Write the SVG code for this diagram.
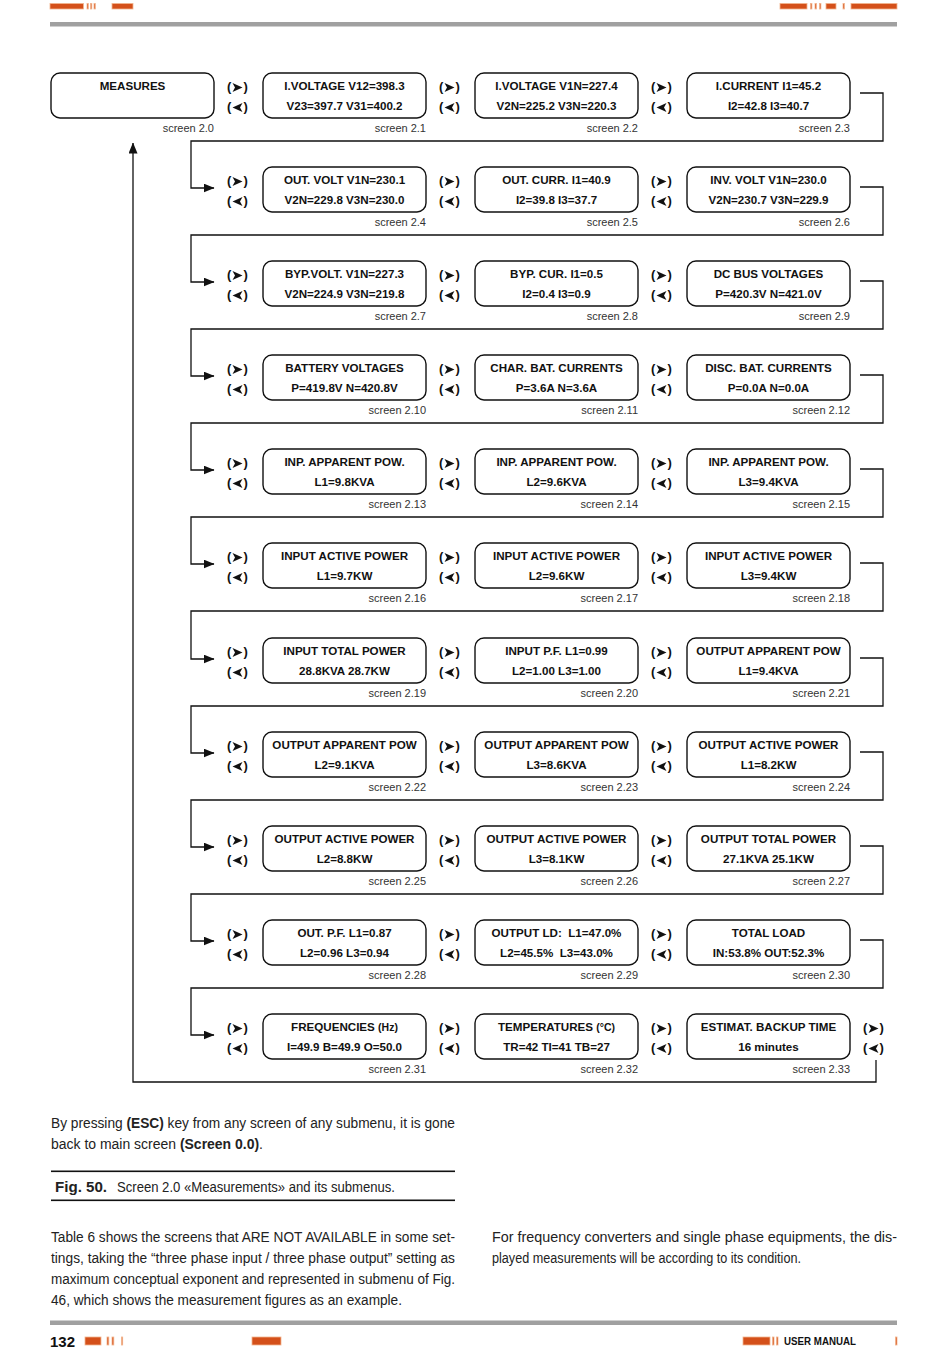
<svg xmlns="http://www.w3.org/2000/svg" xmlns:xlink="http://www.w3.org/1999/xlink" width="950" height="1360" viewBox="0 0 950 1360">
<style>
.bx{fill:#fff;stroke:#111;stroke-width:1.4}
.t{font-family:"Liberation Sans",Arial,sans-serif;font-weight:bold;font-size:11.6px;text-anchor:middle;fill:#111}
.s{font-family:"Liberation Sans",Arial,sans-serif;font-size:11px;text-anchor:end;fill:#333}
.p{font-family:"Liberation Sans",Arial,sans-serif;font-weight:bold;font-size:13px;fill:#111}
.ln{fill:none;stroke:#111;stroke-width:1.3}
.tx{font-family:"Liberation Sans",Arial,sans-serif;font-size:14px;fill:#222}
.b{font-weight:bold}
.or{fill:#d4501a;stroke:#f2b58e;stroke-width:0.8}
</style>
<defs>
<marker id="ah" markerWidth="11" markerHeight="9" refX="10.5" refY="4.5" orient="auto" markerUnits="userSpaceOnUse"><path d="M0,0 L11,4.5 L0,9 z" fill="#111"/></marker>
<polygon id="fw" points="-5,-4.5 5,0 -5,4.5 -2.5,0" fill="#111"/>
<polygon id="bk" points="5,-4.5 -5,0 5,4.5 2.5,0" fill="#111"/>
</defs>
<rect width="950" height="1360" fill="#fff"/>

<!-- header -->
<g id="header">
<rect class="or" x="50" y="3.5" width="33.5" height="5.5"/>
<rect class="or" x="87" y="3.5" width="1.3" height="5.5"/>
<rect class="or" x="90.5" y="3.5" width="1.3" height="5.5"/>
<rect class="or" x="94" y="3.5" width="1.3" height="5.5"/>
<rect class="or" x="112" y="3.5" width="21" height="5.5"/>
<rect class="or" x="780" y="3.5" width="27" height="5.5"/>
<rect class="or" x="810.5" y="3.5" width="1.4" height="5.5"/>
<rect class="or" x="815" y="3.5" width="1.4" height="5.5"/>
<rect class="or" x="819.5" y="3.5" width="1.4" height="5.5"/>
<rect class="or" x="826" y="3.5" width="10" height="5.5"/>
<rect class="or" x="843" y="3.5" width="1.4" height="5.5"/>
<rect class="or" x="851" y="3.5" width="46" height="5.5"/>
<rect x="50" y="22" width="847" height="4.5" fill="#a0a0a0"/>
</g>

<!-- connectors -->
<g id="connectors">
<path class="ln" marker-end="url(#ah)" d="M860,93 H883 V141 H191 V188 H214"/>
<path class="ln" marker-end="url(#ah)" d="M860,187 H883 V235 H191 V282 H214"/>
<path class="ln" marker-end="url(#ah)" d="M860,281 H883 V329 H191 V376 H214"/>
<path class="ln" marker-end="url(#ah)" d="M860,375 H883 V423 H191 V470 H214"/>
<path class="ln" marker-end="url(#ah)" d="M860,469 H883 V517 H191 V564 H214"/>
<path class="ln" marker-end="url(#ah)" d="M860,563 H883 V611 H191 V659 H214"/>
<path class="ln" marker-end="url(#ah)" d="M860,658 H883 V706 H191 V753 H214"/>
<path class="ln" marker-end="url(#ah)" d="M860,752 H883 V800 H191 V847 H214"/>
<path class="ln" marker-end="url(#ah)" d="M860,846 H883 V894 H191 V941 H214"/>
<path class="ln" marker-end="url(#ah)" d="M860,940 H883 V988 H191 V1035 H214"/>
<path class="ln" marker-end="url(#ah)" d="M876,1060 V1082 H133 V143"/>
</g>

<!-- navigation keys -->
<g id="nav">
<text class="p" y="91"><tspan x="227">(</tspan><tspan x="243.5">)</tspan></text><use href="#fw" x="237.5" y="87.5"/>
<text class="p" y="111"><tspan x="227">(</tspan><tspan x="243.5">)</tspan></text><use href="#bk" x="237.5" y="107.5"/>
<text class="p" y="91"><tspan x="439">(</tspan><tspan x="455.5">)</tspan></text><use href="#fw" x="449.5" y="87.5"/>
<text class="p" y="111"><tspan x="439">(</tspan><tspan x="455.5">)</tspan></text><use href="#bk" x="449.5" y="107.5"/>
<text class="p" y="91"><tspan x="651">(</tspan><tspan x="667.5">)</tspan></text><use href="#fw" x="661.5" y="87.5"/>
<text class="p" y="111"><tspan x="651">(</tspan><tspan x="667.5">)</tspan></text><use href="#bk" x="661.5" y="107.5"/>

<text class="p" y="185"><tspan x="227">(</tspan><tspan x="243.5">)</tspan></text><use href="#fw" x="237.5" y="181.5"/>
<text class="p" y="205"><tspan x="227">(</tspan><tspan x="243.5">)</tspan></text><use href="#bk" x="237.5" y="201.5"/>
<text class="p" y="185"><tspan x="439">(</tspan><tspan x="455.5">)</tspan></text><use href="#fw" x="449.5" y="181.5"/>
<text class="p" y="205"><tspan x="439">(</tspan><tspan x="455.5">)</tspan></text><use href="#bk" x="449.5" y="201.5"/>
<text class="p" y="185"><tspan x="651">(</tspan><tspan x="667.5">)</tspan></text><use href="#fw" x="661.5" y="181.5"/>
<text class="p" y="205"><tspan x="651">(</tspan><tspan x="667.5">)</tspan></text><use href="#bk" x="661.5" y="201.5"/>

<text class="p" y="279"><tspan x="227">(</tspan><tspan x="243.5">)</tspan></text><use href="#fw" x="237.5" y="275.5"/>
<text class="p" y="299"><tspan x="227">(</tspan><tspan x="243.5">)</tspan></text><use href="#bk" x="237.5" y="295.5"/>
<text class="p" y="279"><tspan x="439">(</tspan><tspan x="455.5">)</tspan></text><use href="#fw" x="449.5" y="275.5"/>
<text class="p" y="299"><tspan x="439">(</tspan><tspan x="455.5">)</tspan></text><use href="#bk" x="449.5" y="295.5"/>
<text class="p" y="279"><tspan x="651">(</tspan><tspan x="667.5">)</tspan></text><use href="#fw" x="661.5" y="275.5"/>
<text class="p" y="299"><tspan x="651">(</tspan><tspan x="667.5">)</tspan></text><use href="#bk" x="661.5" y="295.5"/>

<text class="p" y="373"><tspan x="227">(</tspan><tspan x="243.5">)</tspan></text><use href="#fw" x="237.5" y="369.5"/>
<text class="p" y="393"><tspan x="227">(</tspan><tspan x="243.5">)</tspan></text><use href="#bk" x="237.5" y="389.5"/>
<text class="p" y="373"><tspan x="439">(</tspan><tspan x="455.5">)</tspan></text><use href="#fw" x="449.5" y="369.5"/>
<text class="p" y="393"><tspan x="439">(</tspan><tspan x="455.5">)</tspan></text><use href="#bk" x="449.5" y="389.5"/>
<text class="p" y="373"><tspan x="651">(</tspan><tspan x="667.5">)</tspan></text><use href="#fw" x="661.5" y="369.5"/>
<text class="p" y="393"><tspan x="651">(</tspan><tspan x="667.5">)</tspan></text><use href="#bk" x="661.5" y="389.5"/>

<text class="p" y="467"><tspan x="227">(</tspan><tspan x="243.5">)</tspan></text><use href="#fw" x="237.5" y="463.5"/>
<text class="p" y="487"><tspan x="227">(</tspan><tspan x="243.5">)</tspan></text><use href="#bk" x="237.5" y="483.5"/>
<text class="p" y="467"><tspan x="439">(</tspan><tspan x="455.5">)</tspan></text><use href="#fw" x="449.5" y="463.5"/>
<text class="p" y="487"><tspan x="439">(</tspan><tspan x="455.5">)</tspan></text><use href="#bk" x="449.5" y="483.5"/>
<text class="p" y="467"><tspan x="651">(</tspan><tspan x="667.5">)</tspan></text><use href="#fw" x="661.5" y="463.5"/>
<text class="p" y="487"><tspan x="651">(</tspan><tspan x="667.5">)</tspan></text><use href="#bk" x="661.5" y="483.5"/>

<text class="p" y="561"><tspan x="227">(</tspan><tspan x="243.5">)</tspan></text><use href="#fw" x="237.5" y="557.5"/>
<text class="p" y="581"><tspan x="227">(</tspan><tspan x="243.5">)</tspan></text><use href="#bk" x="237.5" y="577.5"/>
<text class="p" y="561"><tspan x="439">(</tspan><tspan x="455.5">)</tspan></text><use href="#fw" x="449.5" y="557.5"/>
<text class="p" y="581"><tspan x="439">(</tspan><tspan x="455.5">)</tspan></text><use href="#bk" x="449.5" y="577.5"/>
<text class="p" y="561"><tspan x="651">(</tspan><tspan x="667.5">)</tspan></text><use href="#fw" x="661.5" y="557.5"/>
<text class="p" y="581"><tspan x="651">(</tspan><tspan x="667.5">)</tspan></text><use href="#bk" x="661.5" y="577.5"/>

<text class="p" y="656"><tspan x="227">(</tspan><tspan x="243.5">)</tspan></text><use href="#fw" x="237.5" y="652.5"/>
<text class="p" y="676"><tspan x="227">(</tspan><tspan x="243.5">)</tspan></text><use href="#bk" x="237.5" y="672.5"/>
<text class="p" y="656"><tspan x="439">(</tspan><tspan x="455.5">)</tspan></text><use href="#fw" x="449.5" y="652.5"/>
<text class="p" y="676"><tspan x="439">(</tspan><tspan x="455.5">)</tspan></text><use href="#bk" x="449.5" y="672.5"/>
<text class="p" y="656"><tspan x="651">(</tspan><tspan x="667.5">)</tspan></text><use href="#fw" x="661.5" y="652.5"/>
<text class="p" y="676"><tspan x="651">(</tspan><tspan x="667.5">)</tspan></text><use href="#bk" x="661.5" y="672.5"/>

<text class="p" y="750"><tspan x="227">(</tspan><tspan x="243.5">)</tspan></text><use href="#fw" x="237.5" y="746.5"/>
<text class="p" y="770"><tspan x="227">(</tspan><tspan x="243.5">)</tspan></text><use href="#bk" x="237.5" y="766.5"/>
<text class="p" y="750"><tspan x="439">(</tspan><tspan x="455.5">)</tspan></text><use href="#fw" x="449.5" y="746.5"/>
<text class="p" y="770"><tspan x="439">(</tspan><tspan x="455.5">)</tspan></text><use href="#bk" x="449.5" y="766.5"/>
<text class="p" y="750"><tspan x="651">(</tspan><tspan x="667.5">)</tspan></text><use href="#fw" x="661.5" y="746.5"/>
<text class="p" y="770"><tspan x="651">(</tspan><tspan x="667.5">)</tspan></text><use href="#bk" x="661.5" y="766.5"/>

<text class="p" y="844"><tspan x="227">(</tspan><tspan x="243.5">)</tspan></text><use href="#fw" x="237.5" y="840.5"/>
<text class="p" y="864"><tspan x="227">(</tspan><tspan x="243.5">)</tspan></text><use href="#bk" x="237.5" y="860.5"/>
<text class="p" y="844"><tspan x="439">(</tspan><tspan x="455.5">)</tspan></text><use href="#fw" x="449.5" y="840.5"/>
<text class="p" y="864"><tspan x="439">(</tspan><tspan x="455.5">)</tspan></text><use href="#bk" x="449.5" y="860.5"/>
<text class="p" y="844"><tspan x="651">(</tspan><tspan x="667.5">)</tspan></text><use href="#fw" x="661.5" y="840.5"/>
<text class="p" y="864"><tspan x="651">(</tspan><tspan x="667.5">)</tspan></text><use href="#bk" x="661.5" y="860.5"/>

<text class="p" y="938"><tspan x="227">(</tspan><tspan x="243.5">)</tspan></text><use href="#fw" x="237.5" y="934.5"/>
<text class="p" y="958"><tspan x="227">(</tspan><tspan x="243.5">)</tspan></text><use href="#bk" x="237.5" y="954.5"/>
<text class="p" y="938"><tspan x="439">(</tspan><tspan x="455.5">)</tspan></text><use href="#fw" x="449.5" y="934.5"/>
<text class="p" y="958"><tspan x="439">(</tspan><tspan x="455.5">)</tspan></text><use href="#bk" x="449.5" y="954.5"/>
<text class="p" y="938"><tspan x="651">(</tspan><tspan x="667.5">)</tspan></text><use href="#fw" x="661.5" y="934.5"/>
<text class="p" y="958"><tspan x="651">(</tspan><tspan x="667.5">)</tspan></text><use href="#bk" x="661.5" y="954.5"/>

<text class="p" y="1032"><tspan x="227">(</tspan><tspan x="243.5">)</tspan></text><use href="#fw" x="237.5" y="1028.5"/>
<text class="p" y="1052"><tspan x="227">(</tspan><tspan x="243.5">)</tspan></text><use href="#bk" x="237.5" y="1048.5"/>
<text class="p" y="1032"><tspan x="439">(</tspan><tspan x="455.5">)</tspan></text><use href="#fw" x="449.5" y="1028.5"/>
<text class="p" y="1052"><tspan x="439">(</tspan><tspan x="455.5">)</tspan></text><use href="#bk" x="449.5" y="1048.5"/>
<text class="p" y="1032"><tspan x="651">(</tspan><tspan x="667.5">)</tspan></text><use href="#fw" x="661.5" y="1028.5"/>
<text class="p" y="1052"><tspan x="651">(</tspan><tspan x="667.5">)</tspan></text><use href="#bk" x="661.5" y="1048.5"/>
<text class="p" y="1032"><tspan x="863">(</tspan><tspan x="879.5">)</tspan></text><use href="#fw" x="873.5" y="1028.5"/>
<text class="p" y="1052"><tspan x="863">(</tspan><tspan x="879.5">)</tspan></text><use href="#bk" x="873.5" y="1048.5"/>
</g>

<!-- row 1 -->
<g id="s2_0"><rect class="bx" x="51" y="73" width="163" height="45" rx="9"/><text class="t" x="132.5" y="90">MEASURES</text><text class="s" x="214" y="132">screen 2.0</text></g>
<g id="s2_1"><rect class="bx" x="263" y="73" width="163" height="45" rx="9"/><text class="t" x="344.5" y="90">I.VOLTAGE V12=398.3</text><text class="t" x="344.5" y="110">V23=397.7 V31=400.2</text><text class="s" x="426" y="132">screen 2.1</text></g>
<g id="s2_2"><rect class="bx" x="475" y="73" width="163" height="45" rx="9"/><text class="t" x="556.5" y="90">I.VOLTAGE V1N=227.4</text><text class="t" x="556.5" y="110">V2N=225.2 V3N=220.3</text><text class="s" x="638" y="132">screen 2.2</text></g>
<g id="s2_3"><rect class="bx" x="687" y="73" width="163" height="45" rx="9"/><text class="t" x="768.5" y="90">I.CURRENT I1=45.2</text><text class="t" x="768.5" y="110">I2=42.8 I3=40.7</text><text class="s" x="850" y="132">screen 2.3</text></g>

<!-- row 2 -->
<g id="s2_4"><rect class="bx" x="263" y="167" width="163" height="45" rx="9"/><text class="t" x="344.5" y="184">OUT. VOLT V1N=230.1</text><text class="t" x="344.5" y="204">V2N=229.8 V3N=230.0</text><text class="s" x="426" y="226">screen 2.4</text></g>
<g id="s2_5"><rect class="bx" x="475" y="167" width="163" height="45" rx="9"/><text class="t" x="556.5" y="184">OUT. CURR. I1=40.9</text><text class="t" x="556.5" y="204">I2=39.8 I3=37.7</text><text class="s" x="638" y="226">screen 2.5</text></g>
<g id="s2_6"><rect class="bx" x="687" y="167" width="163" height="45" rx="9"/><text class="t" x="768.5" y="184">INV. VOLT V1N=230.0</text><text class="t" x="768.5" y="204">V2N=230.7 V3N=229.9</text><text class="s" x="850" y="226">screen 2.6</text></g>

<!-- row 3 -->
<g id="s2_7"><rect class="bx" x="263" y="261" width="163" height="45" rx="9"/><text class="t" x="344.5" y="278">BYP.VOLT. V1N=227.3</text><text class="t" x="344.5" y="298">V2N=224.9 V3N=219.8</text><text class="s" x="426" y="320">screen 2.7</text></g>
<g id="s2_8"><rect class="bx" x="475" y="261" width="163" height="45" rx="9"/><text class="t" x="556.5" y="278">BYP. CUR. I1=0.5</text><text class="t" x="556.5" y="298">I2=0.4 I3=0.9</text><text class="s" x="638" y="320">screen 2.8</text></g>
<g id="s2_9"><rect class="bx" x="687" y="261" width="163" height="45" rx="9"/><text class="t" x="768.5" y="278">DC BUS VOLTAGES</text><text class="t" x="768.5" y="298">P=420.3V N=421.0V</text><text class="s" x="850" y="320">screen 2.9</text></g>

<!-- row 4 -->
<g id="s2_10"><rect class="bx" x="263" y="355" width="163" height="45" rx="9"/><text class="t" x="344.5" y="372">BATTERY VOLTAGES</text><text class="t" x="344.5" y="392">P=419.8V N=420.8V</text><text class="s" x="426" y="414">screen 2.10</text></g>
<g id="s2_11"><rect class="bx" x="475" y="355" width="163" height="45" rx="9"/><text class="t" x="556.5" y="372">CHAR. BAT. CURRENTS</text><text class="t" x="556.5" y="392">P=3.6A N=3.6A</text><text class="s" x="638" y="414">screen 2.11</text></g>
<g id="s2_12"><rect class="bx" x="687" y="355" width="163" height="45" rx="9"/><text class="t" x="768.5" y="372">DISC. BAT. CURRENTS</text><text class="t" x="768.5" y="392">P=0.0A N=0.0A</text><text class="s" x="850" y="414">screen 2.12</text></g>

<!-- row 5 -->
<g id="s2_13"><rect class="bx" x="263" y="449" width="163" height="45" rx="9"/><text class="t" x="344.5" y="466">INP. APPARENT POW.</text><text class="t" x="344.5" y="486">L1=9.8KVA</text><text class="s" x="426" y="508">screen 2.13</text></g>
<g id="s2_14"><rect class="bx" x="475" y="449" width="163" height="45" rx="9"/><text class="t" x="556.5" y="466">INP. APPARENT POW.</text><text class="t" x="556.5" y="486">L2=9.6KVA</text><text class="s" x="638" y="508">screen 2.14</text></g>
<g id="s2_15"><rect class="bx" x="687" y="449" width="163" height="45" rx="9"/><text class="t" x="768.5" y="466">INP. APPARENT POW.</text><text class="t" x="768.5" y="486">L3=9.4KVA</text><text class="s" x="850" y="508">screen 2.15</text></g>

<!-- row 6 -->
<g id="s2_16"><rect class="bx" x="263" y="543" width="163" height="45" rx="9"/><text class="t" x="344.5" y="560">INPUT ACTIVE POWER</text><text class="t" x="344.5" y="580">L1=9.7KW</text><text class="s" x="426" y="602">screen 2.16</text></g>
<g id="s2_17"><rect class="bx" x="475" y="543" width="163" height="45" rx="9"/><text class="t" x="556.5" y="560">INPUT ACTIVE POWER</text><text class="t" x="556.5" y="580">L2=9.6KW</text><text class="s" x="638" y="602">screen 2.17</text></g>
<g id="s2_18"><rect class="bx" x="687" y="543" width="163" height="45" rx="9"/><text class="t" x="768.5" y="560">INPUT ACTIVE POWER</text><text class="t" x="768.5" y="580">L3=9.4KW</text><text class="s" x="850" y="602">screen 2.18</text></g>

<!-- row 7 -->
<g id="s2_19"><rect class="bx" x="263" y="638" width="163" height="45" rx="9"/><text class="t" x="344.5" y="655">INPUT TOTAL POWER</text><text class="t" x="344.5" y="675">28.8KVA 28.7KW</text><text class="s" x="426" y="697">screen 2.19</text></g>
<g id="s2_20"><rect class="bx" x="475" y="638" width="163" height="45" rx="9"/><text class="t" x="556.5" y="655">INPUT P.F. L1=0.99</text><text class="t" x="556.5" y="675">L2=1.00 L3=1.00</text><text class="s" x="638" y="697">screen 2.20</text></g>
<g id="s2_21"><rect class="bx" x="687" y="638" width="163" height="45" rx="9"/><text class="t" x="768.5" y="655">OUTPUT APPARENT POW</text><text class="t" x="768.5" y="675">L1=9.4KVA</text><text class="s" x="850" y="697">screen 2.21</text></g>

<!-- row 8 -->
<g id="s2_22"><rect class="bx" x="263" y="732" width="163" height="45" rx="9"/><text class="t" x="344.5" y="749">OUTPUT APPARENT POW</text><text class="t" x="344.5" y="769">L2=9.1KVA</text><text class="s" x="426" y="791">screen 2.22</text></g>
<g id="s2_23"><rect class="bx" x="475" y="732" width="163" height="45" rx="9"/><text class="t" x="556.5" y="749">OUTPUT APPARENT POW</text><text class="t" x="556.5" y="769">L3=8.6KVA</text><text class="s" x="638" y="791">screen 2.23</text></g>
<g id="s2_24"><rect class="bx" x="687" y="732" width="163" height="45" rx="9"/><text class="t" x="768.5" y="749">OUTPUT ACTIVE POWER</text><text class="t" x="768.5" y="769">L1=8.2KW</text><text class="s" x="850" y="791">screen 2.24</text></g>

<!-- row 9 -->
<g id="s2_25"><rect class="bx" x="263" y="826" width="163" height="45" rx="9"/><text class="t" x="344.5" y="843">OUTPUT ACTIVE POWER</text><text class="t" x="344.5" y="863">L2=8.8KW</text><text class="s" x="426" y="885">screen 2.25</text></g>
<g id="s2_26"><rect class="bx" x="475" y="826" width="163" height="45" rx="9"/><text class="t" x="556.5" y="843">OUTPUT ACTIVE POWER</text><text class="t" x="556.5" y="863">L3=8.1KW</text><text class="s" x="638" y="885">screen 2.26</text></g>
<g id="s2_27"><rect class="bx" x="687" y="826" width="163" height="45" rx="9"/><text class="t" x="768.5" y="843">OUTPUT TOTAL POWER</text><text class="t" x="768.5" y="863">27.1KVA 25.1KW</text><text class="s" x="850" y="885">screen 2.27</text></g>

<!-- row 10 -->
<g id="s2_28"><rect class="bx" x="263" y="920" width="163" height="45" rx="9"/><text class="t" x="344.5" y="937">OUT. P.F. L1=0.87</text><text class="t" x="344.5" y="957">L2=0.96 L3=0.94</text><text class="s" x="426" y="979">screen 2.28</text></g>
<g id="s2_29"><rect class="bx" x="475" y="920" width="163" height="45" rx="9"/><text class="t" x="556.5" y="937" xml:space="preserve">OUTPUT LD:  L1=47.0%</text><text class="t" x="556.5" y="957" xml:space="preserve">L2=45.5%  L3=43.0%</text><text class="s" x="638" y="979">screen 2.29</text></g>
<g id="s2_30"><rect class="bx" x="687" y="920" width="163" height="45" rx="9"/><text class="t" x="768.5" y="937">TOTAL LOAD</text><text class="t" x="768.5" y="957">IN:53.8% OUT:52.3%</text><text class="s" x="850" y="979">screen 2.30</text></g>

<!-- row 11 -->
<g id="s2_31"><rect class="bx" x="263" y="1014" width="163" height="45" rx="9"/><text class="t" x="344.5" y="1031">FREQUENCIES <tspan font-size="10.5">(Hz)</tspan></text><text class="t" x="344.5" y="1051">I=49.9 B=49.9 O=50.0</text><text class="s" x="426" y="1073">screen 2.31</text></g>
<g id="s2_32"><rect class="bx" x="475" y="1014" width="163" height="45" rx="9"/><text class="t" x="556.5" y="1031">TEMPERATURES <tspan font-size="10.5">(°C)</tspan></text><text class="t" x="556.5" y="1051">TR=42 TI=41 TB=27</text><text class="s" x="638" y="1073">screen 2.32</text></g>
<g id="s2_33"><rect class="bx" x="687" y="1014" width="163" height="45" rx="9"/><text class="t" x="768.5" y="1031">ESTIMAT. BACKUP TIME</text><text class="t" x="768.5" y="1051">16 minutes</text><text class="s" x="850" y="1073">screen 2.33</text></g>

<!-- body text -->
<g id="text">
<text class="tx" x="51" y="1128" textLength="404" lengthAdjust="spacingAndGlyphs">By pressing <tspan class="b">(ESC)</tspan> key from any screen of any submenu, it is gone</text>
<text class="tx" x="51" y="1149" textLength="212" lengthAdjust="spacingAndGlyphs">back to main screen <tspan class="b">(Screen 0.0)</tspan>.</text>
<rect x="51" y="1170.5" width="404" height="1.6" fill="#111"/>
<text class="tx b" x="55" y="1192" textLength="52" lengthAdjust="spacingAndGlyphs">Fig. 50.</text>
<text class="tx" x="117" y="1192" textLength="278" lengthAdjust="spacingAndGlyphs">Screen 2.0 «Measurements» and its submenus.</text>
<rect x="51" y="1199.5" width="404" height="1.6" fill="#111"/>
<text class="tx" x="51" y="1242" textLength="404" lengthAdjust="spacingAndGlyphs">Table 6 shows the screens that ARE NOT AVAILABLE in some set-</text>
<text class="tx" x="51" y="1263" textLength="404" lengthAdjust="spacingAndGlyphs">tings, taking the “three phase input / three phase output” setting as</text>
<text class="tx" x="51" y="1284" textLength="404" lengthAdjust="spacingAndGlyphs">maximum conceptual exponent and represented in submenu of Fig.</text>
<text class="tx" x="51" y="1305" textLength="351" lengthAdjust="spacingAndGlyphs">46, which shows the measurement figures as an example.</text>
<text class="tx" x="492" y="1242" textLength="405" lengthAdjust="spacingAndGlyphs">For frequency converters and single phase equipments, the dis-</text>
<text class="tx" x="492" y="1263" textLength="309" lengthAdjust="spacingAndGlyphs">played measurements will be according to its condition.</text>
</g>

<!-- footer -->
<g id="footer">
<rect x="50" y="1320.5" width="847" height="4.5" fill="#a0a0a0"/>
<text x="50" y="1347" font-family="Liberation Sans, Arial, sans-serif" font-weight="bold" font-size="15" fill="#111" textLength="25" lengthAdjust="spacingAndGlyphs">132</text>
<rect class="or" x="85" y="1337" width="16" height="8"/>
<rect class="or" x="107" y="1337" width="1.8" height="8"/>
<rect class="or" x="112" y="1337" width="1.8" height="8"/>
<rect class="or" x="121.5" y="1337" width="1.2" height="8"/>
<rect class="or" x="252" y="1337" width="29" height="8"/>
<rect class="or" x="743" y="1337" width="27" height="8"/>
<rect class="or" x="772.5" y="1337" width="1.5" height="8"/>
<rect class="or" x="776.5" y="1337" width="1.5" height="8"/>
<text x="784" y="1344.5" font-family="Liberation Sans, Arial, sans-serif" font-weight="bold" font-size="10.5" fill="#111" textLength="72" lengthAdjust="spacingAndGlyphs">USER MANUAL</text>
<rect class="or" x="895.5" y="1337" width="1.5" height="8"/>
</g>
</svg>
